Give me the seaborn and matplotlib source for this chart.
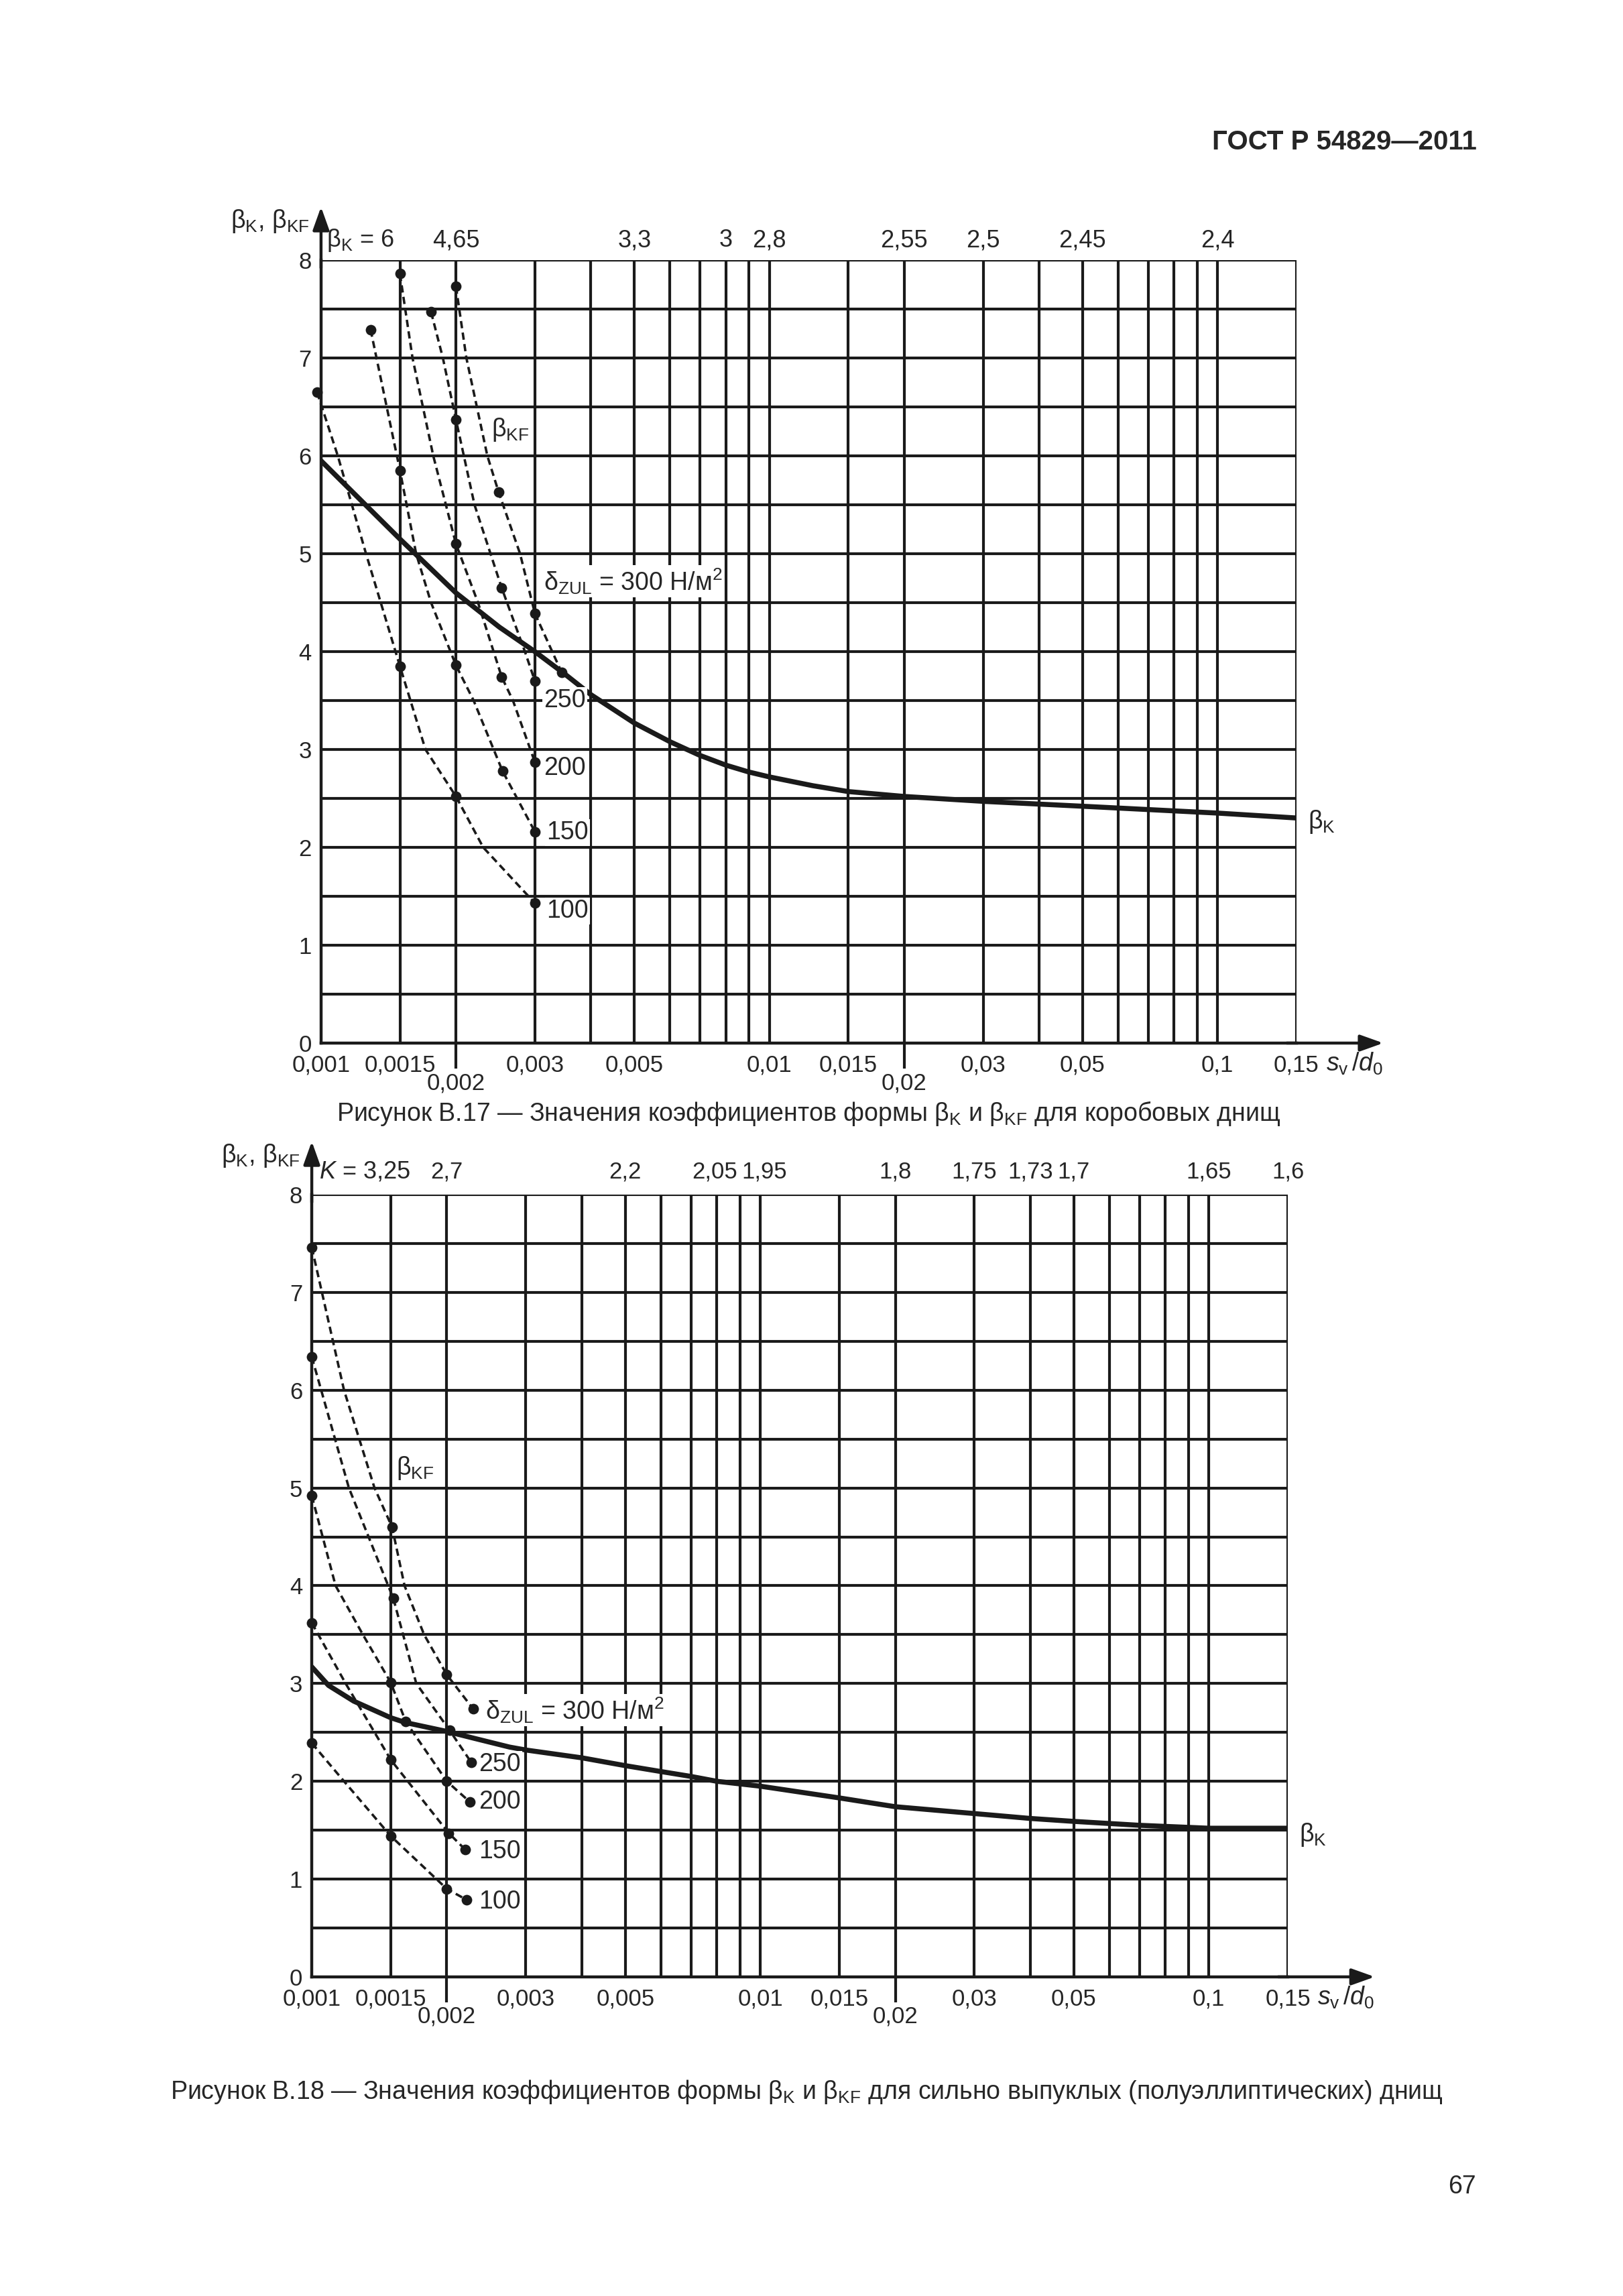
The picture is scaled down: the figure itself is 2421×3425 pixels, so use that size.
"""Recreate GOST R 54829-2011 figures B.17 and B.18 (shape factors beta_K and beta_KF)."""

import matplotlib
matplotlib.use('Agg')
import matplotlib.pyplot as plt
import seaborn as sns

# log-paper grid shared by both figures
grid_x = [0.0015, 0.002, 0.003, 0.004, 0.005, 0.006, 0.007, 0.008, 0.009, 0.01,
          0.015, 0.02, 0.03, 0.04, 0.05, 0.06, 0.07, 0.08, 0.09, 0.1, 0.15]
grid_y = [0.5, 1, 1.5, 2, 2.5, 3, 3.5, 4, 4.5, 5, 5.5, 6, 6.5, 7, 7.5, 8]
xtick_pos = [0.001, 0.0015, 0.003, 0.005, 0.01, 0.015, 0.03, 0.05, 0.1, 0.15]
xtick_lab = ['0,001', '0,0015', '0,003', '0,005', '0,01', '0,015', '0,03', '0,05', '0,1', '0,15']
xtick_low_pos = [0.002, 0.02]
xtick_low_lab = ['0,002', '0,02']
ytick_pos = [0, 1, 2, 3, 4, 5, 6, 7, 8]
ytick_lab = ['0', '1', '2', '3', '4', '5', '6', '7', '8']
delta_lab = ['100', '150', '200', '250']

# ---- Figure B.17 (box heads) ----
b17_bk_x = [0.001, 0.0015, 0.002, 0.0025, 0.003, 0.0035, 0.004, 0.005, 0.006, 0.007,
            0.008, 0.009, 0.01, 0.0125, 0.015, 0.02, 0.03, 0.05, 0.1, 0.15]
b17_bk_y = [5.95, 5.15, 4.6, 4.25, 4.0, 3.77, 3.56, 3.27, 3.08, 2.94,
            2.84, 2.77, 2.72, 2.63, 2.57, 2.52, 2.47, 2.42, 2.35, 2.3]
b17_top_pos = [0.002, 0.005, 0.008, 0.01, 0.02, 0.03, 0.05, 0.1]
b17_top_lab = ['4,65', '3,3', '3', '2,8', '2,55', '2,5', '2,45', '2,4']

b17_100_x = [0.00098, 0.00109, 0.00126, 0.0015, 0.00171, 0.002, 0.0023, 0.003]
b17_100_y = [6.65, 6.0, 5.0, 3.85, 3.0, 2.52, 2.0, 1.43]
b17_150_x = [0.00129, 0.0015, 0.00163, 0.00176, 0.002, 0.00219, 0.00254, 0.003]
b17_150_y = [7.29, 5.85, 5.0, 4.5, 3.86, 3.5, 2.78, 2.16]
b17_200_x = [0.0015, 0.0016, 0.00178, 0.002, 0.00224, 0.00253, 0.00268, 0.003]
b17_200_y = [7.86, 7.0, 6.0, 5.1, 4.5, 3.74, 3.5, 2.87]
b17_250_x = [0.00176, 0.00187, 0.002, 0.0022, 0.00253, 0.00285, 0.003]
b17_250_y = [7.47, 7.0, 6.37, 5.5, 4.65, 4.0, 3.7]
b17_300_x = [0.002, 0.00211, 0.00235, 0.00249, 0.00278, 0.003, 0.00344]
b17_300_y = [7.73, 7.0, 6.0, 5.63, 5.0, 4.39, 3.79]

b17_dot_x = [0.00098, 0.0015, 0.002, 0.003,
             0.00129, 0.0015, 0.002, 0.00254, 0.003,
             0.0015, 0.002, 0.00253, 0.003,
             0.00176, 0.002, 0.00253, 0.003,
             0.002, 0.00249, 0.003, 0.00344]
b17_dot_y = [6.65, 3.85, 2.52, 1.43,
             7.29, 5.85, 3.86, 2.78, 2.16,
             7.86, 5.1, 3.74, 2.87,
             7.47, 6.37, 4.65, 3.7,
             7.73, 5.63, 4.39, 3.79]
b17_lab_x = [0.00318, 0.00318, 0.00314, 0.00314]
b17_lab_y = [1.35, 2.15, 2.81, 3.5]

# ---- Figure B.18 (semi-elliptical heads) ----
b18_bk_x = [0.001, 0.00109, 0.00124, 0.0015, 0.00162, 0.002, 0.0023, 0.00276, 0.003,
            0.004, 0.005, 0.006, 0.007, 0.008, 0.01, 0.015, 0.02, 0.03, 0.04, 0.05,
            0.07, 0.1, 0.15]
b18_bk_y = [3.17, 2.98, 2.82, 2.65, 2.6, 2.51, 2.44, 2.35, 2.32,
            2.24, 2.16, 2.1, 2.05, 2.0, 1.95, 1.83, 1.74, 1.67, 1.62, 1.59,
            1.55, 1.52, 1.52]
b18_top_pos = [0.002, 0.005, 0.0079, 0.0102, 0.02, 0.03, 0.04, 0.05, 0.1, 0.15]
b18_top_lab = ['2,7', '2,2', '2,05', '1,95', '1,8', '1,75', '1,73', '1,7', '1,65', '1,6']

b18_100_x = [0.001, 0.00118, 0.0015, 0.002, 0.00221]
b18_100_y = [2.39, 2.0, 1.44, 0.9, 0.79]
b18_150_x = [0.001, 0.00119, 0.0015, 0.00202, 0.0022]
b18_150_y = [3.62, 3.0, 2.22, 1.47, 1.30]
b18_200_x = [0.001, 0.00113, 0.0013, 0.0015, 0.00162, 0.002, 0.00225]
b18_200_y = [4.92, 4.0, 3.5, 3.01, 2.61, 2.0, 1.79]
b18_250_x = [0.001, 0.00121, 0.00152, 0.00171, 0.00203, 0.00227]
b18_250_y = [6.34, 5.0, 3.87, 3.0, 2.52, 2.19]
b18_300_x = [0.001, 0.00118, 0.00138, 0.00151, 0.00161, 0.00178, 0.002, 0.00229]
b18_300_y = [7.46, 6.0, 5.0, 4.6, 4.0, 3.5, 3.09, 2.74]

b18_dot_x = [0.001, 0.0015, 0.002, 0.00221,
             0.001, 0.0015, 0.00202, 0.0022,
             0.001, 0.0015, 0.00162, 0.002, 0.00225,
             0.001, 0.00152, 0.00203, 0.00227,
             0.001, 0.00151, 0.002, 0.00229]
b18_dot_y = [2.39, 1.44, 0.9, 0.79,
             3.62, 2.22, 1.47, 1.30,
             4.92, 3.01, 2.61, 2.0, 1.79,
             6.34, 3.87, 2.52, 2.19,
             7.46, 4.6, 3.09, 2.74]
b18_lab_x = [0.00236, 0.00236, 0.00236, 0.00236]
b18_lab_y = [0.77, 1.28, 1.79, 2.17]

FS = 25      # tick labels and top scale
FL = 27      # labels and captions
BK = 'β$_{\\mathrm{K}}$'
BKF = 'β$_{\\mathrm{KF}}$'
DELTA = 'δ$_{\\mathrm{ZUL}}$ = 300 Н/м$^{2}$'
WHITE = dict(facecolor='white', edgecolor='none', pad=1.5)


def setup_axes(ax):
   ax.set_xscale('log')
   ax.set_xlim(0.001, 0.15)
   ax.set_ylim(0, 8)
   ax.vlines(grid_x, 0, 8, color='k', lw=3.0, zorder=1)
   ax.hlines(grid_y, 0.001, 0.15, color='k', lw=3.0, zorder=1)
   for s in ['top', 'right']:
      ax.spines[s].set_visible(False)
   for s in ['left', 'bottom']:
      ax.spines[s].set_linewidth(3.2)
      ax.spines[s].set_color('k')
   ax.set_xticks(xtick_pos, xtick_lab)
   ax.set_xticks(xtick_low_pos, xtick_low_lab, minor=True)
   ax.tick_params(axis='x', which='major', length=0, pad=12, labelsize=FS)
   ax.tick_params(axis='x', which='minor', bottom=True, length=27, width=3.0,
                  pad=4, labelsize=FS, direction='out', color='k')
   ax.set_yticks(ytick_pos, ytick_lab)
   ax.tick_params(axis='y', which='both', length=0, pad=10, labelsize=FS)
   arrow = dict(arrowstyle='-|>,head_length=0.7,head_width=0.25', color='k',
                lw=3.2, mutation_scale=30, shrinkA=0, shrinkB=0)
   ax.annotate('', xy=(1.089, 0), xytext=(0.99, 0), xycoords='axes fraction',
               arrowprops=arrow, annotation_clip=False)
   ax.annotate('', xy=(0, 1.068), xytext=(0, 0.99), xycoords='axes fraction',
               arrowprops=arrow, annotation_clip=False)
   ax.text(-0.012, 1.05, BK + ', ' + BKF, transform=ax.transAxes,
           ha='right', va='center', fontsize=FL)
   ax.text(0.1745, -0.21, r'$s_{\mathrm{v}}\,/d_{0}$', ha='left', va='center', fontsize=FL)
   ax.set_xlabel('')
   ax.set_ylabel('')


def draw_curves(ax, bk_x, bk_y, kf_curves, dot_x, dot_y):
   sns.lineplot(x=bk_x, y=bk_y, ax=ax, color='k', lw=5.4, estimator=None,
                sort=False, zorder=3)
   for cx, cy in kf_curves:
      sns.lineplot(x=cx, y=cy, ax=ax, color='k', lw=2.6, linestyle=(0, (3.0, 1.8)),
                   estimator=None, sort=False, zorder=3, clip_on=False)
   sns.scatterplot(x=dot_x, y=dot_y, ax=ax, color='k', s=130, linewidth=0,
                   zorder=4, clip_on=False, legend=False)


def main():
   sns.set_theme(style='ticks')
   plt.rcParams['font.family'] = ['Liberation Sans', 'DejaVu Sans']
   plt.rcParams['mathtext.fontset'] = 'custom'
   plt.rcParams['mathtext.rm'] = 'Liberation Sans'
   plt.rcParams['mathtext.it'] = 'Liberation Sans:italic'
   plt.rcParams['mathtext.bf'] = 'Liberation Sans:bold'

   fig = plt.figure(figsize=(24.21, 34.25), dpi=100)
   fig.patch.set_facecolor('white')

   # Figure B.17
   ax1 = fig.add_axes([0.1978, 0.5457, 0.601, 0.341])
   setup_axes(ax1)
   draw_curves(ax1, b17_bk_x, b17_bk_y,
               [(b17_100_x, b17_100_y), (b17_150_x, b17_150_y), (b17_200_x, b17_200_y),
                (b17_250_x, b17_250_y), (b17_300_x, b17_300_y)],
               b17_dot_x, b17_dot_y)
   ax1.text(0.00103, 8.2, BK + ' = 6', ha='left', va='center', fontsize=FS + 1)
   for pos, lab in zip(b17_top_pos, b17_top_lab):
      ax1.text(pos, 8.2, lab, ha='center', va='center', fontsize=FS + 1)
   for x, y, lab in zip(b17_lab_x, b17_lab_y, delta_lab):
      ax1.text(x, y, lab, ha='left', va='center', fontsize=FL, bbox=WHITE, zorder=5)
   ax1.text(0.00314, 4.72, DELTA, ha='left', va='center', fontsize=FL, bbox=WHITE, zorder=5)
   ax1.text(0.0024, 6.27, BKF, ha='left', va='center', fontsize=FL, bbox=WHITE, zorder=5)
   ax1.text(0.159, 2.26, BK, ha='left', va='center', fontsize=FL)

   # Figure B.18
   ax2 = fig.add_axes([0.1921, 0.139, 0.6014, 0.3407])
   setup_axes(ax2)
   draw_curves(ax2, b18_bk_x, b18_bk_y,
               [(b18_100_x, b18_100_y), (b18_150_x, b18_150_y), (b18_200_x, b18_200_y),
                (b18_250_x, b18_250_y), (b18_300_x, b18_300_y)],
               b18_dot_x, b18_dot_y)
   ax2.text(0.00104, 8.23, '$K$ = 3,25', ha='left', va='center', fontsize=FS + 1)
   for pos, lab in zip(b18_top_pos, b18_top_lab):
      ax2.text(pos, 8.23, lab, ha='center', va='center', fontsize=FS)
   for x, y, lab in zip(b18_lab_x, b18_lab_y, delta_lab):
      ax2.text(x, y, lab, ha='left', va='center', fontsize=FL, bbox=WHITE, zorder=5)
   ax2.text(0.00244, 2.73, DELTA, ha='left', va='center', fontsize=FL, bbox=WHITE, zorder=5)
   ax2.text(0.00154, 5.2, BKF, ha='left', va='center', fontsize=FL, bbox=WHITE, zorder=5)
   ax2.text(0.159, 1.45, BK, ha='left', va='center', fontsize=FL)

   # page texts
   fig.text(0.91, 0.938, 'ГОСТ Р 54829—2011', ha='right', va='center',
            fontsize=29, fontweight='bold')
   fig.text(0.498, 0.515, 'Рисунок В.17 — Значения коэффициентов формы ' + BK + ' и '
            + BKF + ' для коробовых днищ', ha='center', va='center', fontsize=FL)
   fig.text(0.497, 0.089, 'Рисунок В.18 — Значения коэффициентов формы ' + BK + ' и '
            + BKF + ' для сильно выпуклых (полуэллиптических) днищ',
            ha='center', va='center', fontsize=FL)
   fig.text(0.9008, 0.0476, '67', ha='center', va='center', fontsize=FL)

   fig.savefig('out.png', dpi=100, facecolor='white')


if __name__ == '__main__':
   main()
